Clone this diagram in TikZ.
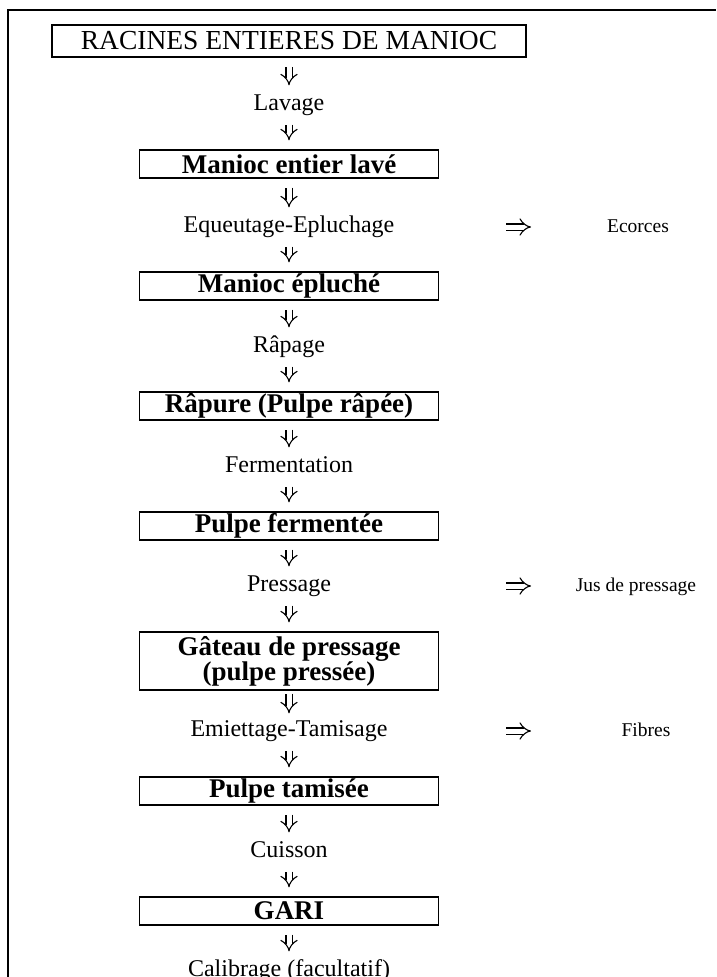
\documentclass[tikz,border=0pt]{standalone}
\usepackage{fontspec}
\setmainfont{Liberation Serif}
\usetikzlibrary{positioning,arrows.meta}

\begin{document}
\begin{tikzpicture}[x=1pt,y=1pt,node distance=60pt,on grid,
  titre/.style={draw,line width=1.5pt,minimum width=474pt,minimum height=32pt,inner sep=0pt,font=\fontsize{27.5}{30}\selectfont},
  produit/.style={draw,line width=1.4pt,minimum width=299pt,minimum height=28pt,inner sep=0pt,align=center,font=\fontsize{27}{25}\selectfont\bfseries},
  operation/.style={inner sep=0pt,text height=16pt,text depth=5pt,font=\fontsize{24}{28}\selectfont},
  dechet/.style={inner sep=0pt,text height=14pt,text depth=4pt,font=\fontsize{19.5}{23}\selectfont},
  fleche/.style={double,double distance=5pt,line width=1.1pt,-{Implies},shorten <=9pt,shorten >=9pt},
  sortie/.style={double,double distance=5pt,line width=1.1pt,-{Implies},shorten <=217pt,shorten >=107pt}]
  \useasboundingbox (0,0) rectangle (716,-977);
  \draw[line width=1.5pt] (8,-977) -- (8,-10) -- (716,-10);

  \node[titre] (racines) at (289,-41) {RACINES ENTIERES DE MANIOC};
  \node[operation,below=64pt of racines] (lavage) {Lavage};
  \node[produit,below=59pt of lavage] (lave) {Manioc entier lavé};
  \node[operation,below=63pt of lave] (equeutage) {Equeutage-Epluchage};
  \node[dechet,right=349pt of equeutage] (ecorces) {Ecorces};
  \node[produit,below=59pt of equeutage] (epluche) {Manioc épluché};
  \node[operation,below=61pt of epluche] (rapage) {Râpage};
  \node[produit,below=59pt of rapage] (rapure) {Râpure (Pulpe râpée)};
  \node[operation,below=61pt of rapure] (fermentation) {Fermentation};
  \node[produit,below=59pt of fermentation] (fermentee) {Pulpe fermentée};
  \node[operation,below=60pt of fermentee] (pressage) {Pressage};
  \node[dechet,right=347pt of pressage] (jus) {Jus de pressage};
  \node[produit,minimum height=58pt,below=75pt of pressage] (gateau) {Gâteau de pressage\\(pulpe pressée)};
  \node[operation,below=70pt of gateau] (emiettage) {Emiettage-Tamisage};
  \node[dechet,right=357pt of emiettage] (fibres) {Fibres};
  \node[produit,below=60pt of emiettage] (tamisee) {Pulpe tamisée};
  \node[operation,below=61pt of tamisee] (cuisson) {Cuisson};
  \node[produit,below=59pt of cuisson] (gari) {GARI};
  \node[operation,below=60pt of gari] (calibrage) {Calibrage (facultatif)};

  \draw[fleche] (racines) -- (lavage);
  \draw[fleche] (lavage) -- (lave);
  \draw[fleche] (lave) -- (equeutage);
  \draw[fleche] (equeutage) -- (epluche);
  \draw[fleche] (epluche) -- (rapage);
  \draw[fleche] (rapage) -- (rapure);
  \draw[fleche] (rapure) -- (fermentation);
  \draw[fleche] (fermentation) -- (fermentee);
  \draw[fleche] (fermentee) -- (pressage);
  \draw[fleche] (pressage) -- (gateau);
  \draw[fleche,shorten <=3pt,shorten >=7pt] (gateau) -- (emiettage);
  \draw[fleche] (emiettage) -- (tamisee);
  \draw[fleche] (tamisee) -- (cuisson);
  \draw[fleche] (cuisson) -- (gari);
  \draw[fleche] (gari) -- (calibrage);

  \draw[sortie] (equeutage.center) -- (ecorces.center);
  \draw[sortie,shorten >=105pt] (pressage.center) -- (jus.center);
  \draw[sortie,shorten >=115pt] (emiettage.center) -- (fibres.center);
\end{tikzpicture}
\end{document}
